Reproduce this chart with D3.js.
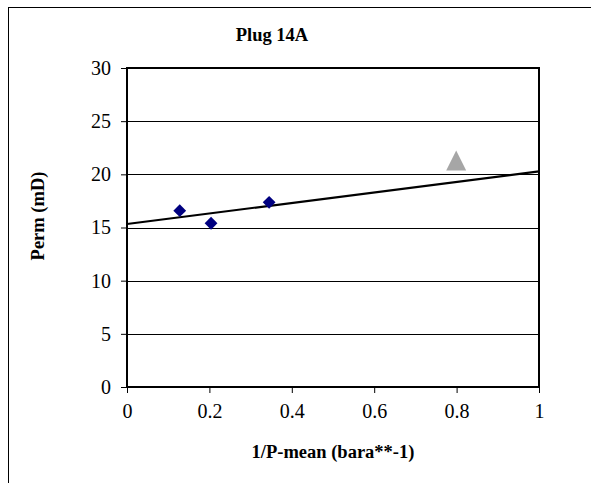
<!DOCTYPE html>
<html>
<head>
<meta charset="utf-8">
<script src="https://cdn.jsdelivr.net/npm/d3@7"></script>
<style>
  html, body { margin: 0; padding: 0; background: #fff; }
  svg { display: block; }
  svg text { font-family: "Liberation Serif", "Times New Roman", serif !important; }
</style>
</head>
<body>
<svg id="chart" width="591" height="483" font-family="Liberation Serif, serif"></svg>
<script>
// Measured permeability against inverse mean pressure
const measuredX = [0.128, 0.204, 0.345];
const measuredY = [16.58, 15.4, 17.37];

// Extra point shown with a grey triangle
const extraX = [0.799];
const extraY = [21.2];

// Linear trend endpoints
const trendX = [0, 1];
const trendY = [15.33, 20.28];

const xTicks = [0, 0.2, 0.4, 0.6, 0.8, 1];
const yTicks = [0, 5, 10, 15, 20, 25, 30];

const FONT = "Liberation Serif, serif";
const svg = d3.select("#chart");
const W = 591, H = 483;
const plot = { left: 127, right: 539, top: 68, bottom: 387 };

const x = d3.scaleLinear().domain([0, 1]).range([plot.left, plot.right]);
const y = d3.scaleLinear().domain([0, 30]).range([plot.bottom, plot.top]);

// Outer chart frame (only left and top edges fall inside the page)
svg.append("rect")
  .attr("x", 8.5).attr("y", 7.5)
  .attr("width", W + 20).attr("height", H + 20)
  .attr("fill", "#fff").attr("stroke", "#000").attr("stroke-width", 1);

// Horizontal gridlines
svg.append("g")
  .selectAll("line")
  .data(yTicks.filter(d => d > 0 && d < 30))
  .join("line")
  .attr("x1", plot.left).attr("x2", plot.right)
  .attr("y1", d => Math.round(y(d)) + 0.5).attr("y2", d => Math.round(y(d)) + 0.5)
  .attr("stroke", "#000").attr("stroke-width", 1);

// Axes
const yAxis = d3.axisLeft(y).tickValues(yTicks).tickSize(6).tickPadding(10)
  .tickFormat(d3.format("d"));
const xAxis = d3.axisBottom(x).tickValues(xTicks).tickSize(6).tickPadding(11)
  .tickFormat(d => d === 0 || d === 1 ? String(d) : d3.format(".1f")(d));

const gy = svg.append("g").attr("transform", `translate(${plot.left},0)`).call(yAxis);
const gx = svg.append("g").attr("transform", `translate(0,${plot.bottom})`).call(xAxis);
[gx, gy].forEach(g => {
  g.attr("font-family", FONT).attr("font-size", 20);
  g.select(".domain").remove();
  g.selectAll(".tick line").attr("stroke", "#000").attr("stroke-width", 1);
  g.selectAll(".tick text").attr("fill", "#000");
});

// Plot area frame
svg.append("rect")
  .attr("x", plot.left).attr("y", plot.top)
  .attr("width", plot.right - plot.left).attr("height", plot.bottom - plot.top)
  .attr("fill", "none").attr("stroke", "#000").attr("stroke-width", 2);

// Trend line
svg.append("line")
  .attr("x1", x(trendX[0])).attr("y1", y(trendY[0]))
  .attr("x2", x(trendX[1])).attr("y2", y(trendY[1]))
  .attr("stroke", "#000").attr("stroke-width", 2.2);

// Measured points as navy diamonds
const diamond = d3.symbol().type(d3.symbolSquare).size(82);
svg.append("g")
  .selectAll("path")
  .data(measuredX.map((v, i) => [v, measuredY[i]]))
  .join("path")
  .attr("d", diamond)
  .attr("transform", d => `translate(${x(d[0])},${y(d[1])}) rotate(45)`)
  .attr("fill", "#000080");

// Extra point as a grey triangle
svg.append("g")
  .selectAll("path")
  .data(extraX.map((v, i) => [v, extraY[i]]))
  .join("path")
  .attr("d", d => {
    const cx = x(d[0]), cy = y(d[1]);
    return `M${cx},${cy - 11}L${cx + 10},${cy + 9}L${cx - 10},${cy + 9}Z`;
  })
  .attr("fill", "#a6a6a6");

// Titles
const titles = svg.append("g").attr("font-family", FONT).attr("font-size", 18.5).attr("font-weight", "bold");
titles.append("text")
  .attr("x", 272).attr("y", 41)
  .attr("text-anchor", "middle")
  .text("Plug 14A");

titles.append("text")
  .attr("x", 333).attr("y", 458)
  .attr("text-anchor", "middle")
  .text("1/P-mean (bara**-1)");

titles.append("text")
  .attr("transform", "translate(44,216) rotate(-90)")
  .attr("text-anchor", "middle")
  .text("Perm (mD)");
</script>
</body>
</html>
